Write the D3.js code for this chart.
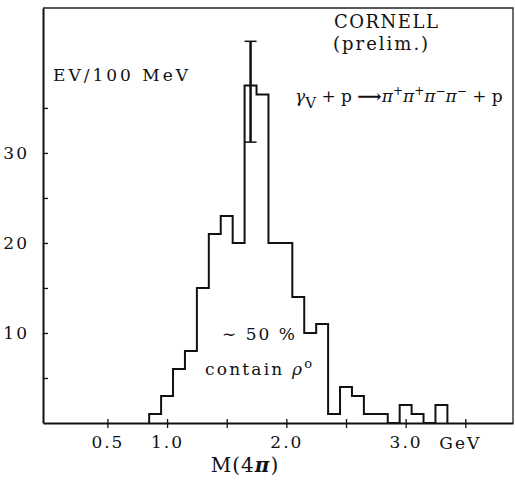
<!DOCTYPE html>
<html>
<head>
<meta charset="utf-8">
<script src="https://cdn.jsdelivr.net/npm/d3@7"></script>
<style>
  body { margin: 0; background: #fff; }
  svg text { font-family: "DejaVu Serif", serif; fill: #111; }
</style>
</head>
<body>
<div id="chart"></div>
<script>
// 100 MeV bins, lower edge in GeV
const binStarts = [0.85, 0.95, 1.05, 1.15, 1.25, 1.35, 1.45, 1.55, 1.65, 1.75,
                   1.85, 1.95, 2.05, 2.15, 2.25, 2.35, 2.45, 2.55, 2.65, 2.75,
                   2.85, 2.95, 3.05, 3.15, 3.25];
const counts = [1, 3, 6, 8, 15, 21, 23, 20, 37.5, 36.5,
                20, 20, 14, 10, 11, 1, 4, 3, 1, 1,
                0, 2, 1, 0, 2];
const binWidth = 0.1;

// error bar on the peak bin
const errBin = [1.70];
const errLo = [31.2];
const errHi = [42.4];

const xTicks = [0.5, 1.0, 1.5, 2.0, 2.5, 3.0, 3.5];
const xTickLabels = ['0.5', '1.0', '', '2.0', '', '3.0', ''];
const yTicks = [5, 10, 15, 20, 25, 30, 35];
const yTickLabels = ['', '10', '', '20', '', '30', ''];

const width = 515, height = 480;
const margin = {left: 43, right: 2, top: 8, bottom: 57};

const svg = d3.select('#chart').append('svg')
  .attr('width', width)
  .attr('height', height);

const x = d3.scaleLinear()
  .domain([-0.04, 3.90])
  .range([margin.left, width - margin.right]);
const y = d3.scaleLinear()
  .domain([0, 46.1])
  .range([height - margin.bottom, margin.top]);

// frame (top + right edges)
svg.append('path')
  .attr('d', 'M' + x.range()[0] + ',' + y.range()[1] + ' H' + x.range()[1] + ' V' + y.range()[0])
  .attr('fill', 'none')
  .attr('stroke', '#222')
  .attr('stroke-width', 1.3);

// x axis with crossing ticks
const xAxis = d3.axisBottom(x)
  .tickValues(xTicks)
  .tickSizeOuter(0)
  .tickFormat((d, i) => xTickLabels[i]);
const gx = svg.append('g')
  .attr('transform', 'translate(0,' + y(0) + ')')
  .call(xAxis);
gx.select('.domain').attr('stroke', '#111').attr('stroke-width', 1.8);
gx.selectAll('.tick line').attr('y1', -4).attr('y2', 5).attr('stroke', '#111').attr('stroke-width', 1.3);
gx.selectAll('.tick text')
  .attr('y', 13)
  .style('font-size', '17px')
  .style('letter-spacing', '2px')
  .attr('fill', '#111');

// y axis, small ticks pointing inward
const yAxis = d3.axisLeft(y)
  .tickValues(yTicks)
  .tickSizeOuter(0)
  .tickSizeInner(-5)
  .tickFormat((d, i) => yTickLabels[i]);
const gy = svg.append('g')
  .attr('transform', 'translate(' + x.range()[0] + ',0)')
  .call(yAxis);
gy.select('.domain').attr('stroke', '#111').attr('stroke-width', 2);
gy.selectAll('.tick line').attr('stroke', '#111').attr('stroke-width', 1.3);
gy.selectAll('.tick text')
  .attr('x', -14)
  .style('font-size', '17px')
  .style('letter-spacing', '2px')
  .attr('fill', '#111');

// histogram as a step outline
const pts = [[binStarts[0], 0]];
binStarts.forEach((b, i) => {
  pts.push([b, counts[i]]);
  pts.push([b + binWidth, counts[i]]);
});
pts.push([binStarts[binStarts.length - 1] + binWidth, 0]);
const line = d3.line().x(d => x(d[0])).y(d => y(d[1]));
svg.append('path')
  .attr('d', line(pts))
  .attr('fill', 'none')
  .attr('stroke', '#111')
  .attr('stroke-width', 2)
  .attr('stroke-linejoin', 'miter');

// error bar
errBin.forEach((b, i) => {
  const g = svg.append('g').attr('stroke', '#111');
  g.append('line')
    .attr('x1', x(b)).attr('x2', x(b))
    .attr('y1', y(errLo[i])).attr('y2', y(errHi[i]))
    .attr('stroke-width', 2.5);
  [errLo[i], errHi[i]].forEach(v => {
    g.append('line')
      .attr('x1', x(b) - 6).attr('x2', x(b) + 6)
      .attr('y1', y(v)).attr('y2', y(v))
      .attr('stroke-width', 1.5);
  });
});

// texts
const txt = (tx, ty, s, size, ls) => svg.append('text')
  .attr('x', tx).attr('y', ty)
  .style('font-size', (size || 17) + 'px')
  .style('letter-spacing', (ls === undefined ? 2 : ls) + 'px')
  .text(s);

txt(334, 28, 'CORNELL', 18, 1.5);
txt(333, 50, '(prelim.)', 18, 2);
txt(53, 81, 'EV/100 MeV', 17, 3);
txt(x(3.45) - 20, y(0) + 26, 'GeV', 17, 2);

const mLabel = svg.append('text')
  .attr('x', 245).attr('y', 472)
  .attr('text-anchor', 'middle')
  .style('font-size', '20px')
  .style('letter-spacing', '1px');
mLabel.append('tspan').text('M(4');
mLabel.append('tspan').style('font-style', 'italic').style('font-weight', 'bold').text('π');
mLabel.append('tspan').text(')');

// reaction: gamma_V + p -> pi+ pi+ pi- pi- + p
const r = svg.append('text')
  .attr('x', 295).attr('y', 102)
  .style('font-size', '17px');
r.append('tspan').style('font-style', 'italic').text('γ');
r.append('tspan').attr('dy', 6).style('font-size', '15px').text('V');
r.append('tspan').attr('dy', -6).text(' + p ');
r.append('tspan').style('font-weight', 'bold').text('⟶');
let shift = 0;
['+', '+', '−', '−'].forEach(c => {
  r.append('tspan').attr('dy', -shift).style('font-style', 'italic').text('π');
  r.append('tspan').attr('dy', -7).style('font-size', '12px').text(c);
  shift = -7;
});
r.append('tspan').attr('dy', 7).text(' + p');

txt(222, 340, '∼ 50 %', 17, 2);
const c = txt(205, 375, 'contain ', 17, 2.2);
c.append('tspan').style('font-style', 'italic').text('ρ');
c.append('tspan').attr('dy', -7).style('font-size', '13px').text('o');
</script>
</body>
</html>
